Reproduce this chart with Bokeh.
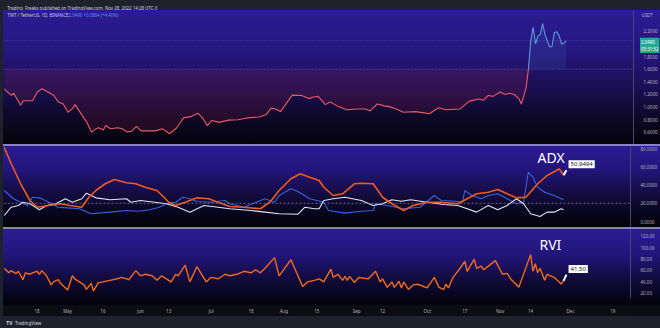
import numpy as np
import pandas as pd
from bokeh.plotting import figure
from bokeh.layouts import column, row
from bokeh.models import Range1d, FixedTicker, Span, Label, PrintfTickFormatter
from bokeh.embed import file_html
from bokeh.resources import INLINE

# ---------------- data ----------------
price_dates = ["2022-04-04", "2022-04-07", "2022-04-08", "2022-04-11", "2022-04-12", "2022-04-16",
               "2022-04-18", "2022-04-20", "2022-04-22", "2022-04-25", "2022-04-27", "2022-04-29",
               "2022-05-01", "2022-05-03", "2022-05-04", "2022-05-07", "2022-05-09", "2022-05-11",
               "2022-05-13", "2022-05-14", "2022-05-16", "2022-05-17", "2022-05-19", "2022-05-22",
               "2022-05-24", "2022-05-26", "2022-05-28", "2022-05-30", "2022-06-01", "2022-06-07",
               "2022-06-10", "2022-06-13", "2022-06-16", "2022-06-19", "2022-06-22", "2022-06-25",
               "2022-06-27", "2022-06-29", "2022-07-01", "2022-07-04", "2022-07-08", "2022-07-12",
               "2022-07-16", "2022-07-21", "2022-07-24", "2022-07-26", "2022-07-28", "2022-07-30",
               "2022-08-04", "2022-08-08", "2022-08-11", "2022-08-13", "2022-08-15", "2022-08-18",
               "2022-08-20", "2022-08-23", "2022-08-27", "2022-09-01", "2022-09-04", "2022-09-06",
               "2022-09-09", "2022-09-12", "2022-09-15", "2022-09-17", "2022-09-20", "2022-09-25",
               "2022-09-29", "2022-10-01", "2022-10-05", "2022-10-08", "2022-10-14", "2022-10-18",
               "2022-10-22", "2022-10-24", "2022-10-26", "2022-10-28", "2022-10-31", "2022-11-02",
               "2022-11-04", "2022-11-06", "2022-11-08", "2022-11-09", "2022-11-10", "2022-11-11",
               "2022-11-12", "2022-11-13", "2022-11-14", "2022-11-15", "2022-11-16", "2022-11-17",
               "2022-11-18", "2022-11-19", "2022-11-20", "2022-11-21", "2022-11-22", "2022-11-23",
               "2022-11-24", "2022-11-25", "2022-11-26", "2022-11-27", "2022-11-28"]
price_vals = [1.29, 1.185, 1.22, 1.03, 1.10, 1.10,
              1.24, 1.29, 1.25, 1.185, 1.08, 1.05,
              0.92, 0.98, 1.04, 0.87, 0.76, 0.605,
              0.66, 0.675, 0.64, 0.71, 0.66, 0.675,
              0.66, 0.61, 0.62, 0.695, 0.625, 0.625,
              0.66, 0.58, 0.67, 0.83, 0.85, 0.905,
              0.83, 0.71, 0.79, 0.76, 0.795, 0.80,
              0.83, 0.845, 0.885, 0.985, 0.97, 0.93,
              1.19, 1.185, 1.135, 1.16, 1.17, 1.04,
              1.08, 1.02, 0.96, 0.97, 0.97, 0.94,
              1.05, 1.02, 1.00, 0.97, 0.92, 0.93,
              0.91, 0.895, 0.99, 0.96, 0.97, 1.095,
              1.13, 1.11, 1.185, 1.17, 1.24, 1.20,
              1.22, 1.20, 1.13, 1.05, 1.17, 1.30,
              1.60, 2.05, 2.26, 2.00, 2.12, 2.15,
              2.32, 2.15, 2.05, 1.95, 1.96, 2.18,
              2.19, 2.13, 2.00, 2.01, 2.049]
baseline_level = 1.6
last_price_text = "2.0490"
countdown_text = "05:31:52"

adx_dates = ["2022-04-04", "2022-04-07", "2022-04-11", "2022-04-15", "2022-04-18", "2022-04-23",
             "2022-04-28", "2022-05-02", "2022-05-07", "2022-05-10", "2022-05-13", "2022-05-17",
             "2022-05-21", "2022-05-26", "2022-05-30", "2022-06-03", "2022-06-08", "2022-06-11",
             "2022-06-13", "2022-06-16", "2022-06-20", "2022-06-25", "2022-06-30", "2022-07-04",
             "2022-07-09", "2022-07-15", "2022-07-22", "2022-07-26", "2022-07-30", "2022-08-04",
             "2022-08-08", "2022-08-12", "2022-08-16", "2022-08-18", "2022-08-22", "2022-08-26",
             "2022-08-31", "2022-09-03", "2022-09-08", "2022-09-12", "2022-09-16", "2022-09-21",
             "2022-09-25", "2022-10-01", "2022-10-07", "2022-10-14", "2022-10-18", "2022-10-22",
             "2022-10-27", "2022-10-31", "2022-11-04", "2022-11-08", "2022-11-12", "2022-11-17",
             "2022-11-21", "2022-11-25", "2022-11-26", "2022-11-27", "2022-11-28"]
adx_vals = [81.7, 63.5, 41.5, 23.1, 15.7, 17.6,
            19.5, 17.6, 15.7, 26.7, 34.1, 41.5,
            46.2, 42.6, 41.5, 37.7, 34.1, 26.7,
            21.2, 17.6, 21.2, 26.0, 25.0, 21.2,
            16.5, 15.7, 14.0, 21.2, 34.1, 47.0,
            52.5, 48.7, 45.1, 37.7, 28.6, 30.5,
            41.5, 42.1, 41.5, 26.7, 19.5, 12.1,
            17.6, 21.2, 21.2, 19.5, 25.0, 30.5,
            32.2, 35.2, 30.5, 26.0, 26.7, 41.5,
            50.6, 56.1, 58.0, 55.0, 50.9494]

dip_dates = ["2022-04-04", "2022-04-08", "2022-04-14", "2022-04-16", "2022-04-19", "2022-04-23",
             "2022-04-27", "2022-05-01", "2022-05-06", "2022-05-11", "2022-05-19", "2022-05-26",
             "2022-05-31", "2022-06-05", "2022-06-09", "2022-06-12", "2022-06-16", "2022-06-19",
             "2022-06-22", "2022-06-25", "2022-07-01", "2022-07-07", "2022-07-09", "2022-07-15",
             "2022-07-22", "2022-07-24", "2022-07-28", "2022-07-30", "2022-08-04", "2022-08-07",
             "2022-08-12", "2022-08-18", "2022-08-20", "2022-08-27", "2022-09-03", "2022-09-08",
             "2022-09-09", "2022-09-14", "2022-09-21", "2022-09-28", "2022-10-04", "2022-10-07",
             "2022-10-13", "2022-10-16", "2022-10-17", "2022-10-20", "2022-10-24", "2022-10-27",
             "2022-10-31", "2022-11-04", "2022-11-08", "2022-11-11", "2022-11-13", "2022-11-15",
             "2022-11-17", "2022-11-20", "2022-11-24", "2022-11-28"]
dip_vals = [34.1, 25.0, 17.6, 26.7, 26.0, 21.2,
            15.7, 15.0, 14.0, 8.5, 10.3, 12.1,
            11.3, 12.9, 15.7, 19.5, 21.2, 26.7,
            25.0, 22.0, 21.2, 23.1, 19.5, 15.7,
            23.1, 25.0, 21.2, 28.6, 36.0, 33.0,
            25.0, 21.2, 12.1, 9.2, 11.3, 12.1,
            19.5, 17.6, 14.0, 15.7, 28.6, 23.1,
            22.3, 21.2, 34.1, 28.6, 25.0, 28.6,
            30.5, 25.0, 19.5, 21.2, 54.2, 48.7,
            37.7, 32.2, 28.6, 23.9]

dim_dates = ["2022-04-04", "2022-04-07", "2022-04-10", "2022-04-12", "2022-04-15", "2022-04-19",
             "2022-04-22", "2022-04-26", "2022-04-30", "2022-05-03", "2022-05-07", "2022-05-09",
             "2022-05-13", "2022-05-19", "2022-05-26", "2022-05-28", "2022-06-01", "2022-06-07",
             "2022-06-12", "2022-06-17", "2022-06-22", "2022-06-28", "2022-07-04", "2022-07-09",
             "2022-07-18", "2022-07-24", "2022-07-30", "2022-08-07", "2022-08-10", "2022-08-14",
             "2022-08-16", "2022-08-18", "2022-08-22", "2022-08-27", "2022-09-03", "2022-09-08",
             "2022-09-12", "2022-09-16", "2022-09-20", "2022-09-24", "2022-10-01", "2022-10-08",
             "2022-10-14", "2022-10-18", "2022-10-22", "2022-10-27", "2022-10-31", "2022-11-04",
             "2022-11-08", "2022-11-11", "2022-11-14", "2022-11-18", "2022-11-21", "2022-11-24",
             "2022-11-27", "2022-11-28"]
dim_vals = [6.6, 15.7, 17.6, 21.2, 19.5, 12.9,
            17.6, 19.5, 25.0, 21.2, 25.0, 31.2,
            26.0, 23.9, 25.0, 21.2, 23.1, 21.2,
            19.5, 15.7, 10.3, 17.6, 15.7, 14.0,
            12.1, 10.3, 8.5, 8.0, 15.7, 14.0,
            14.0, 23.1, 25.0, 26.7, 23.1, 17.6,
            19.5, 23.9, 22.3, 23.9, 21.2, 18.7,
            17.6, 14.0, 10.3, 17.6, 12.9, 17.6,
            25.0, 19.5, 8.5, 5.5, 10.3, 10.3,
            14.0, 12.9]
adx_level = 20

rvi_dates = ["2022-04-04", "2022-04-06", "2022-04-07", "2022-04-09", "2022-04-10", "2022-04-12",
             "2022-04-13", "2022-04-15", "2022-04-16", "2022-04-18", "2022-04-19", "2022-04-20",
             "2022-04-22", "2022-04-24", "2022-04-25", "2022-04-27", "2022-04-28", "2022-05-01",
             "2022-05-03", "2022-05-04", "2022-05-06", "2022-05-08", "2022-05-09", "2022-05-11",
             "2022-05-12", "2022-05-14", "2022-05-16", "2022-05-19", "2022-05-22", "2022-05-24",
             "2022-05-27", "2022-05-30", "2022-06-01", "2022-06-03", "2022-06-06", "2022-06-08",
             "2022-06-10", "2022-06-12", "2022-06-14", "2022-06-16", "2022-06-17", "2022-06-20",
             "2022-06-22", "2022-06-25", "2022-06-27", "2022-06-29", "2022-07-01", "2022-07-04",
             "2022-07-07", "2022-07-09", "2022-07-12", "2022-07-15", "2022-07-18", "2022-07-20",
             "2022-07-22", "2022-07-24", "2022-07-28", "2022-07-30", "2022-08-04", "2022-08-07",
             "2022-08-09", "2022-08-11", "2022-08-14", "2022-08-16", "2022-08-18", "2022-08-21",
             "2022-08-22", "2022-08-24", "2022-08-26", "2022-08-27", "2022-08-28", "2022-08-29",
             "2022-08-31", "2022-09-02", "2022-09-04", "2022-09-06", "2022-09-09", "2022-09-11",
             "2022-09-12", "2022-09-14", "2022-09-16", "2022-09-17", "2022-09-19", "2022-09-20",
             "2022-09-21", "2022-09-23", "2022-09-25", "2022-09-27", "2022-10-01", "2022-10-04",
             "2022-10-06", "2022-10-08", "2022-10-09", "2022-10-10", "2022-10-12", "2022-10-15",
             "2022-10-17", "2022-10-18", "2022-10-21", "2022-10-22", "2022-10-24", "2022-10-25",
             "2022-10-27", "2022-10-30", "2022-11-02", "2022-11-04", "2022-11-06", "2022-11-09",
             "2022-11-14", "2022-11-15", "2022-11-16", "2022-11-17", "2022-11-18", "2022-11-20",
             "2022-11-21", "2022-11-24", "2022-11-27", "2022-11-28"]
rvi_vals = [63.8, 55.8, 59.6, 54.2, 58.5, 43.6,
            55.8, 53.2, 55.8, 58.5, 53.2, 59.6,
            50.5, 34.4, 39.7, 43.6, 37.2, 25.3,
            50.5, 45.2, 39.7, 34.4, 26.4, 37.2,
            23.7, 38.1, 39.7, 42.5, 45.2, 47.8,
            43.6, 59.6, 50.5, 53.2, 50.5, 42.5,
            50.5, 45.2, 39.7, 53.2, 50.5, 69.3,
            39.7, 66.5, 53.2, 39.7, 47.8, 45.2,
            53.2, 50.5, 53.2, 58.5, 55.8, 61.2,
            55.8, 63.8, 82.6, 50.5, 78.9, 50.5,
            31.7, 39.7, 42.5, 45.2, 39.7, 62.2,
            47.8, 53.2, 42.5, 49.4, 42.5, 49.4,
            38.7, 47.8, 46.2, 45.2, 58.5, 39.7,
            45.2, 30.1, 39.7, 30.1, 40.9, 29.1,
            39.7, 26.4, 34.4, 35.6, 29.1, 47.8,
            30.1, 26.4, 35.6, 29.1, 47.8, 63.8,
            76.2, 58.5, 79.8, 63.8, 67.6, 61.2,
            67.6, 77.3, 53.2, 54.8, 42.5, 30.5,
            87.9, 58.5, 71.8, 55.8, 63.8, 42.5,
            53.2, 47.8, 36.0, 41.50]

tick_dates = ["2022-04-18", "2022-05-01", "2022-05-16", "2022-06-01", "2022-06-13", "2022-07-01",
              "2022-07-18", "2022-08-01", "2022-08-15", "2022-09-01", "2022-09-12", "2022-10-01",
              "2022-10-17", "2022-11-01", "2022-11-14", "2022-12-01", "2022-12-19"]
tick_labels = ["18", "May", "16", "Jun", "13", "Jul", "18", "Aug", "15", "Sep", "12", "Oct",
               "17", "Nov", "14", "Dec", "19"]
price_ticks = [0.6, 0.8, 1.0, 1.2, 1.4, 1.6, 1.8, 2.0, 2.2]
adx_ticks = [0, 20, 40, 60, 80]
rvi_ticks = [20, 40, 60, 80, 100, 120]

header_text = "Trading_Freaks published on TradingView.com, Nov 28, 2022 14:28 UTC-3"
symbol_text = "TWT / TetherUS, 1D, BINANCE"
quote_text = "2.0490  +0.0864 (+4.40%)"

# ---------------- styling ----------------
W = 660
RIGHT = 22
FONT = "Noto Sans"
AXIS_TXT = "#b2b5be"
BAR = "#1e222d"
SEP = "#8a80c8"
LEFT_STRIP = "linear-gradient(to right, #1e222d 0px, #1e222d 3px, transparent 3px)"

px = pd.to_datetime(price_dates)
pv = np.array(price_vals)
ad = pd.to_datetime(adx_dates)
dpd = pd.to_datetime(dip_dates)
dmd = pd.to_datetime(dim_dates)
rd = pd.to_datetime(rvi_dates)

x_range = Range1d(start=pd.Timestamp("2022-04-03 17:00"), end=pd.Timestamp("2022-12-26 12:00"))


def style_pane(p, ticks, fmt):
    p.background_fill_color = None
    p.border_fill_color = None
    p.outline_line_color = None
    p.grid.visible = False
    ax = p.yaxis[0]
    ax.ticker = FixedTicker(ticks=ticks)
    ax.formatter = PrintfTickFormatter(format=fmt)
    ax.major_label_text_font_size = "4.5px"
    ax.major_label_text_color = AXIS_TXT
    ax.major_label_text_font = FONT
    ax.major_tick_line_color = None
    ax.minor_tick_line_color = None
    ax.axis_line_color = "#4a4670"
    ax.major_label_standoff = 4


def bar_fig(h):
    f = figure(width=W, height=h, x_range=Range1d(0, W), y_range=Range1d(0, h),
               output_backend="svg", toolbar_location=None,
               x_axis_location=None, y_axis_location=None,
               min_border=0, min_border_left=0, min_border_right=0,
               min_border_top=0, min_border_bottom=0)
    f.background_fill_color = BAR
    f.border_fill_color = BAR
    f.outline_line_color = None
    f.grid.visible = False
    return f


# header
hdr = bar_fig(10)
hdr.add_layout(Label(x=4, y=5, text=header_text, text_font=FONT, text_font_size="4.4px",
                     text_color="#d1d4dc", text_baseline="middle"))

# ---------------- pane 1: price (baseline style) ----------------
p1 = figure(width=W, height=134, x_range=x_range, y_range=Range1d(0.41, 2.527),
            x_axis_type="datetime", x_axis_location=None, y_axis_location="right",
            output_backend="svg", toolbar_location=None,
            min_border_left=3, min_border_right=RIGHT, min_border_top=0, min_border_bottom=0)
style_pane(p1, price_ticks, "%.4f")
p1.styles = {"background": LEFT_STRIP + ", linear-gradient(to bottom, #2c1b93 0%, #26167f 30%, "
             "#1c1058 55%, #0d0828 80%, #050409 100%)"}

split = int(np.argmax(pv > baseline_level)) - 1
p1.varea(x=px, y1=np.minimum(pv, baseline_level), y2=baseline_level,
         fill_color="#c8304a", fill_alpha=0.13)
p1.varea(x=px, y1=baseline_level, y2=np.maximum(pv, baseline_level),
         fill_color="#4a7fd0", fill_alpha=0.14)
p1.add_layout(Span(location=baseline_level, dimension="width", line_color="#8a7cc8",
                   line_alpha=0.6, line_width=1, line_dash="1 2"))
p1.add_layout(Span(location=pv[-1], dimension="width", line_color="#7f95d0",
                   line_alpha=0.45, line_width=1, line_dash="1 2"))
p1.line(px[:split + 1], pv[:split + 1], line_color="#ec5a66", line_width=1.1)
p1.line(px[split:], pv[split:], line_color="#5b9bd8", line_width=1.1)

p1.add_layout(Label(x=4, x_units="screen", y=2.453, text=symbol_text, text_font=FONT,
                    text_font_size="4.4px", text_color="#c8cad6", text_baseline="middle"))
p1.add_layout(Label(x=65, x_units="screen", y=2.453, text=quote_text, text_font=FONT,
                    text_font_size="4.4px", text_color="#5b9bd8", text_baseline="middle"))

# transparent strip laid over the price scale, carrying the scale's tags
tag = figure(width=RIGHT, height=134, x_range=Range1d(0, RIGHT), y_range=p1.y_range,
             output_backend="svg", toolbar_location=None,
             x_axis_location=None, y_axis_location=None,
             min_border=0, min_border_left=0, min_border_right=0,
             min_border_top=0, min_border_bottom=0, margin=(0, 0, 0, -RIGHT))
tag.background_fill_color = None
tag.border_fill_color = None
tag.outline_line_color = None
tag.grid.visible = False
tag.add_layout(Label(x=3, y=2.453, text="USDT", text_font=FONT, text_font_size="4.4px",
                     text_color=AXIS_TXT, text_baseline="middle"))
tag.add_layout(Label(x=1.5, y=float(pv[-1]), y_offset=3,
                     text=last_price_text + "\n" + countdown_text, text_font=FONT,
                     text_font_size="4.4px", text_color="#ffffff", text_baseline="top",
                     background_fill_color="#22ab94", padding=1))

# ---------------- pane 2: ADX / DMI ----------------
p2 = figure(width=W, height=83, x_range=x_range, y_range=Range1d(-6.6, 82.5),
            x_axis_type="datetime", x_axis_location=None, y_axis_location="right",
            output_backend="svg", toolbar_location=None,
            min_border_left=3, min_border_right=RIGHT, min_border_top=2, min_border_bottom=0)
style_pane(p2, adx_ticks, "%.4f")
p2.styles = {"background": LEFT_STRIP + ", linear-gradient(to bottom, " + SEP + " 0px, " + SEP +
             " 2px, #2c1b93 2px, #24157c 30%, #140c40 60%, #07051a 85%, #040308 100%)"}
p2.add_layout(Span(location=adx_level, dimension="width", line_color="#8a8ca0",
                   line_alpha=0.7, line_width=1, line_dash="2 2"))
p2.line(dpd, dip_vals, line_color="#3a62e0", line_width=1.1)
p2.line(dmd, dim_vals, line_color="#e4e4f0", line_width=1.1)
p2.line(ad, adx_vals, line_color="#f25a1e", line_width=1.6)
p2.segment(x0=[ad[-1]], y0=[adx_vals[-1]], x1=[ad[-1] + pd.Timedelta(hours=30)],
           y1=[adx_vals[-1] + 5.5], line_color="#ffffff", line_width=2)
p2.add_layout(Label(x=ad[-1], y=adx_vals[-1], x_offset=5, y_offset=7,
                    text="%.4f" % adx_vals[-1], text_font=FONT, text_font_size="6px",
                    text_color="#131722", text_baseline="bottom",
                    background_fill_color="#ffffff", padding=2))
p2.add_layout(Label(x=534, x_units="screen", y=70.4, text="ADX", text_font=FONT,
                    text_font_size="14px", text_color="#ffffff", text_baseline="middle"))

# ---------------- pane 3: RVI ----------------
p3 = figure(width=W, height=89, x_range=x_range, y_range=Range1d(10.4, 132.3),
            x_axis_type="datetime", x_axis_location="below", y_axis_location="right",
            output_backend="svg", toolbar_location=None,
            min_border_left=3, min_border_right=RIGHT, min_border_top=2, min_border_bottom=11)
style_pane(p3, rvi_ticks, "%.2f")
p3.styles = {"background": LEFT_STRIP + ", linear-gradient(to bottom, " + SEP + " 0px, " + SEP +
             " 2px, #2c1b93 2px, #22157a 28px, #120b3c 52px, #060418 70px, #040308 78px, "
             "#0c0c13 78px, #0c0c13 100%)"}
p3.line(rd, rvi_vals, line_color="#f26a1e", line_width=1.4)
p3.segment(x0=[rd[-1]], y0=[rvi_vals[-1]], x1=[rd[-1] + pd.Timedelta(hours=30)],
           y1=[rvi_vals[-1] + 11], line_color="#ffffff", line_width=2)
p3.add_layout(Label(x=rd[-1], y=rvi_vals[-1], x_offset=5, y_offset=8,
                    text="%.2f" % rvi_vals[-1], text_font=FONT, text_font_size="6px",
                    text_color="#131722", text_baseline="bottom",
                    background_fill_color="#ffffff", padding=2))
p3.add_layout(Label(x=536, x_units="screen", y=105.8, text="RVI", text_font=FONT,
                    text_font_size="14px", text_color="#ffffff", text_baseline="middle"))

tick_ms = [float(pd.Timestamp(t).value // 10**6) for t in tick_dates]
xa = p3.xaxis[0]
xa.ticker = FixedTicker(ticks=tick_ms)
xa.major_label_overrides = {k: v for k, v in zip(tick_ms, tick_labels)}
xa.major_label_text_font_size = "4.5px"
xa.major_label_text_color = AXIS_TXT
xa.major_label_text_font = FONT
xa.major_tick_line_color = None
xa.minor_tick_line_color = None
xa.axis_line_color = None
xa.major_label_standoff = 3

# footer
ftr = bar_fig(12)
ftr.add_layout(Label(x=3, y=6, text="TV", text_font=FONT, text_font_size="5px",
                     text_font_style="bold", text_color="#d1d4dc", text_baseline="middle"))
ftr.add_layout(Label(x=12, y=6, text="TradingView", text_font=FONT, text_font_size="4.6px",
                     text_color="#d1d4dc", text_baseline="middle"))

layout = column(hdr, row(p1, tag, spacing=0), p2, p3, ftr, spacing=0)
layout.styles = {"background-color": BAR}
open("out.html", "w").write(file_html(layout, INLINE))
